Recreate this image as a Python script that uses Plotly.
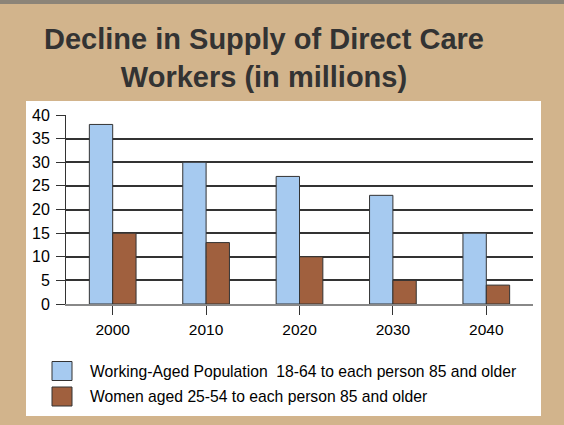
import plotly.graph_objects as go

years = ["2000", "2010", "2020", "2030", "2040"]
working_aged = [38, 30, 27, 23, 15]
women_aged = [15, 13, 10, 5, 4]
series_names = [
    "Working-Aged Population  18-64 to each person 85 and older",
    "Women aged 25-54 to each person 85 and older",
]
series_colors = ["#A6CAF0", "#A0603E"]
title_lines = ["Decline in Supply of Direct Care", "Workers (in millions)"]

fig = go.Figure()
for name, vals, col in zip(series_names, [working_aged, women_aged], series_colors):
    fig.add_trace(go.Bar(
        x=years, y=vals, name=name, marker_color=col,
        marker_line=dict(color="#333333", width=1), showlegend=False,
    ))

font_family = "Liberation Sans, Arial, sans-serif"

PW, PH = 467, 189  # plot area size in px
def px(x):
    return (x - 66) / PW
def py(y):
    return (304 - y) / PH

fig.update_layout(
    width=564, height=425,
    margin=dict(l=66, r=31, t=115, b=121),
    paper_bgcolor="#D2B48C",
    plot_bgcolor="white",
    barmode="group", bargap=0.5, bargroupgap=0,
    font=dict(family=font_family, color="black", size=15.5),
    xaxis=dict(
        type="category", showgrid=False, ticks="outside", ticklen=9,
        tickcolor="#333333", tickwidth=1, showline=True, linecolor="#888888",
        linewidth=1.5, tickfont=dict(size=15.5), zeroline=False,
        ticklabelstandoff=2,
    ),
    yaxis=dict(
        range=[0, 40], dtick=5, showgrid=True, gridcolor="#333333", gridwidth=1.5,
        ticks="outside", ticklen=9, tickcolor="#333333", tickwidth=1,
        showline=True, linecolor="#333333", linewidth=1, tickfont=dict(size=16),
        zeroline=False, ticklabelstandoff=3,
    ),
)

# darker top edge of the parchment
fig.add_shape(type="rect", xref="paper", yref="paper",
              x0=px(0), x1=px(564), y0=py(4), y1=py(0),
              fillcolor="#8C8478", line_width=0, layer="below")

# white chart panel
fig.add_shape(type="rect", xref="paper", yref="paper",
              x0=px(26), x1=px(541), y0=py(416), y1=py(101),
              fillcolor="white", line_width=0, layer="below")

# title
fig.add_annotation(text="<b>" + "<br>".join(title_lines) + "</b>",
                   xref="paper", yref="paper", x=px(264), y=py(58),
                   showarrow=False, xanchor="center", yanchor="middle",
                   font=dict(size=29, color="#333333", family=font_family),
                   align="center")

# manual legend with large swatches
for i, (name, col) in enumerate(zip(series_names, series_colors)):
    yc = 371 + i * 25.5
    fig.add_shape(type="rect", xref="paper", yref="paper",
                  x0=px(52), x1=px(72), y0=py(yc + 9.5), y1=py(yc - 9.5),
                  fillcolor=col, line=dict(color="#333333", width=1))
    fig.add_annotation(text=name, xref="paper", yref="paper",
                       x=px(88), y=py(yc), showarrow=False,
                       xanchor="left", yanchor="middle",
                       font=dict(size=15.7, color="black", family=font_family))

fig.write_html("out.html", config={"displayModeBar": False},
               post_script="document.body.style.margin='0';")
